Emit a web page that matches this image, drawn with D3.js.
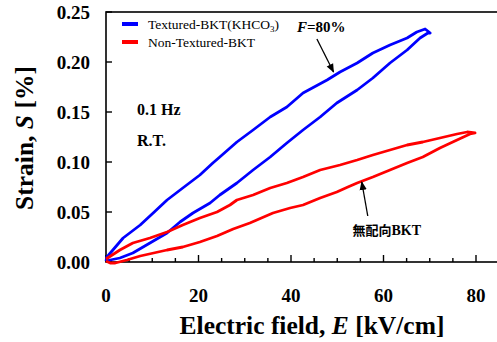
<!DOCTYPE html>
<html>
<head>
<meta charset="utf-8">
<script src="https://cdn.jsdelivr.net/npm/d3@7"></script>
<style>
  body { margin: 0; background: #fff; }
  text { font-family: "Liberation Serif", "Times New Roman", serif; font-weight: bold; }
  text.plain { font-weight: normal; }
</style>
</head>
<body>
<div id="chart"></div>
<script>
// ---------- data (E in kV/cm, S in %) ----------
const texturedRise = [
  [0, 0.001], [0.9, 0.002], [3.0, 0.004], [5.8, 0.009], [9.5, 0.019], [13.2, 0.029],
  [16.0, 0.040], [18.8, 0.049], [22.5, 0.059], [24.6, 0.067], [28.3, 0.079], [31.8, 0.092],
  [35.5, 0.105], [39.1, 0.119], [42.6, 0.132], [46.3, 0.145], [49.9, 0.159], [54.3, 0.172],
  [57.7, 0.184], [61.4, 0.199], [65.1, 0.212], [67.9, 0.224], [69.6, 0.229], [70.1, 0.229]
];
const texturedFall = [
  [70.1, 0.229], [69.0, 0.233], [67.2, 0.230], [65.1, 0.224], [61.4, 0.217], [57.7, 0.209],
  [54.3, 0.199], [50.6, 0.190], [47.8, 0.182], [42.6, 0.169], [39.1, 0.155], [35.5, 0.145],
  [31.8, 0.132], [28.3, 0.120], [24.6, 0.105], [23.1, 0.099], [20.3, 0.087], [16.6, 0.074],
  [13.2, 0.062], [10.2, 0.049], [7.4, 0.037], [3.7, 0.024], [0.2, 0.005], [0, 0.001]
];
const nonTexturedRise = [
  [0, 0.001], [0.9, -0.001], [2.0, -0.001], [4.5, 0.002], [7.4, 0.006], [13.2, 0.012],
  [16.6, 0.015], [20.3, 0.020], [24.0, 0.026], [27.5, 0.033], [31.1, 0.039], [36.1, 0.049],
  [39.8, 0.054], [42.6, 0.057], [46.3, 0.064], [49.9, 0.070], [52.3, 0.075], [54.3, 0.079],
  [57.7, 0.085], [61.4, 0.092], [65.1, 0.099], [68.5, 0.105], [72.2, 0.114], [75.9, 0.122],
  [78.7, 0.128], [79.8, 0.129]
];
const nonTexturedFall = [
  [79.8, 0.129], [78.1, 0.130], [75.9, 0.128], [72.2, 0.124], [68.5, 0.120], [65.1, 0.117],
  [61.4, 0.112], [57.7, 0.107], [54.3, 0.102], [50.6, 0.097], [46.3, 0.092], [42.6, 0.085],
  [39.1, 0.079], [35.5, 0.074], [31.8, 0.067], [28.3, 0.062], [26.8, 0.057], [24.0, 0.050],
  [20.3, 0.044], [16.6, 0.037], [13.2, 0.030], [9.5, 0.024], [5.8, 0.019], [3.0, 0.012],
  [0, 0.003]
];

const xTicks = [0, 20, 40, 60, 80];
const xMinorTicks = d3.range(0, 85, 5);
const yTicks = [0, 0.05, 0.10, 0.15, 0.20, 0.25];

const seriesNames = ["Textured-BKT(KHCO", "Non-Textured-BKT"];
const seriesColors = ["#0000ff", "#ff0000"];

// ---------- layout ----------
const W = 497, H = 342;
const margin = { top: 12, left: 106 };
const width = 85 * 4.625;
const height = 250;

const x = d3.scaleLinear().domain([0, 85]).range([0, width]);
const y = d3.scaleLinear().domain([0, 0.25]).range([height, 0]);

const svg = d3.select('#chart').append('svg')
  .attr('width', W).attr('height', H);

svg.append('defs').append('marker')
  .attr('id', 'arrow')
  .attr('viewBox', '0 0 10 10')
  .attr('refX', 9).attr('refY', 5)
  .attr('markerWidth', 9).attr('markerHeight', 9)
  .attr('markerUnits', 'userSpaceOnUse')
  .attr('orient', 'auto')
  .append('path')
  .attr('d', 'M0,1 L10,5 L0,9 Z')
  .attr('fill', '#000');

const g = svg.append('g')
  .attr('transform', `translate(${margin.left},${margin.top})`);

// frame
g.append('rect')
  .attr('width', width).attr('height', height)
  .attr('fill', 'none').attr('stroke', '#000').attr('stroke-width', 1.6);

// x ticks (inward)
g.selectAll('.xminor').data(xMinorTicks).join('line')
  .attr('x1', d => x(d)).attr('x2', d => x(d))
  .attr('y1', height).attr('y2', d => height - (d % 20 === 0 ? 7 : 4))
  .attr('stroke', '#000').attr('stroke-width', 1.4);

g.selectAll('.xlab').data(xTicks).join('text')
  .attr('x', d => x(d)).attr('y', height + 40)
  .attr('text-anchor', 'middle')
  .attr('font-size', 19)
  .text(d => d);

// y ticks (inward)
g.selectAll('.ytick').data(yTicks).join('line')
  .attr('x1', 0).attr('x2', 6)
  .attr('y1', d => y(d)).attr('y2', d => y(d))
  .attr('stroke', '#000').attr('stroke-width', 1.4);

g.selectAll('.ylab').data(yTicks).join('text')
  .attr('x', -16).attr('y', d => y(d) + 7)
  .attr('text-anchor', 'end')
  .attr('font-size', 19)
  .text(d => d.toFixed(2));

// axis titles
const xt = svg.append('text')
  .attr('x', 312).attr('y', 334)
  .attr('text-anchor', 'middle')
  .attr('font-size', 25.5);
xt.append('tspan').text('Electric field, ');
xt.append('tspan').attr('font-style', 'italic').text('E');
xt.append('tspan').text(' [kV/cm]');

const yt = svg.append('text')
  .attr('transform', 'translate(33,138) rotate(-90)')
  .attr('text-anchor', 'middle')
  .attr('font-size', 25.5);
yt.append('tspan').text('Strain, ');
yt.append('tspan').attr('font-style', 'italic').text('S');
yt.append('tspan').text(' [%]');

// curves
const line = d3.line().x(d => x(d[0])).y(d => y(d[1]));
const loops = [
  texturedRise.concat(texturedFall),
  nonTexturedRise.concat(nonTexturedFall)
];
g.selectAll('.loop').data(loops).join('path')
  .attr('d', d => line(d))
  .attr('fill', 'none')
  .attr('stroke', (d, i) => seriesColors[i])
  .attr('stroke-width', 2.8)
  .attr('stroke-linejoin', 'round');

// legend
const legend = svg.append('g');
seriesNames.forEach((name, i) => {
  const ly = 24 + i * 18;
  legend.append('line')
    .attr('x1', 122).attr('x2', 138)
    .attr('y1', ly).attr('y2', ly)
    .attr('stroke', seriesColors[i]).attr('stroke-width', 4);
  const t = legend.append('text')
    .attr('class', 'plain')
    .attr('x', 148).attr('y', ly + 4.5)
    .attr('font-size', 13.5)
    .text(name);
  if (i === 0) {
    t.append('tspan').attr('font-size', 9).attr('dy', 3).text('3');
    t.append('tspan').attr('dy', -3).text(')');
  }
});

// condition notes
svg.append('text').attr('x', 137).attr('y', 115).attr('font-size', 16).text('0.1 Hz');
svg.append('text').attr('x', 137).attr('y', 146).attr('font-size', 16).text('R.T.');

// annotations
const ft = g.append('text')
  .attr('x', x(41.3)).attr('y', y(0.230))
  .attr('font-size', 15);
ft.append('tspan').attr('font-style', 'italic').text('F');
ft.append('tspan').text('=80%');

g.append('line')
  .attr('x1', x(45.6)).attr('y1', y(0.223))
  .attr('x2', x(49.2)).attr('y2', y(0.190))
  .attr('stroke', '#000').attr('stroke-width', 1.3)
  .attr('marker-end', 'url(#arrow)');

const nt = g.append('text')
  .attr('x', x(53.3)).attr('y', y(0.027))
  .attr('font-size', 14);
nt.append('tspan').attr('font-family', '"Noto Sans CJK JP", sans-serif').attr('font-size', 13).text('無配向');
nt.append('tspan').text('BKT');

g.append('line')
  .attr('x1', x(56.6)).attr('y1', y(0.046))
  .attr('x2', x(55.3)).attr('y2', y(0.080))
  .attr('stroke', '#000').attr('stroke-width', 1.3)
  .attr('marker-end', 'url(#arrow)');
</script>
</body>
</html>
